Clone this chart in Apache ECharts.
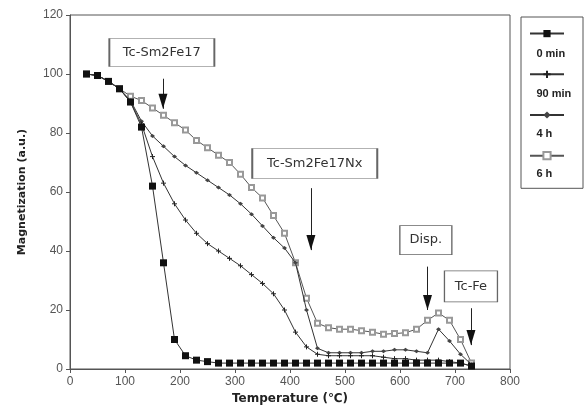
<!DOCTYPE html>
<html>
<head>
<meta charset="utf-8">
<script src="https://cdn.jsdelivr.net/npm/echarts@6/dist/echarts.min.js"></script>
<style>html,body{margin:0;padding:0;background:#fff;}#c{width:585px;height:415px;}</style>
</head>
<body>
<div id="c"></div>
<script>
// Temperature grid (°C)
var temps = [30,50,70,90,110,130,150,170,190,210,230,250,270,290,310,330,350,370,390,410,430,450,470,490,510,530,550,570,590,610,630,650,670,690,710,730];
// Magnetization (a.u.)
var min0 = [100,99.5,97.5,95,90.5,82,62,36,10,4.5,3,2.5,2,2,2,2,2,2,2,2,2,2,2,2,2,2,2,2,2,2,2,2,2,2,2,1];
var min90 = [100,99.5,97.5,95,90.5,83,72,63,56,50.5,46,42.5,40,37.5,35,32,29,25.5,20,12.5,7.5,5,4.5,4.5,4.5,4.5,4.5,4,3.5,3.5,3,3,3,2.5,2,1];
var h4 = [100,99.5,97.5,95,91,84,79,75.5,72,69,66.5,64,61.5,59,56,52.5,48.5,44.5,41,36,20,7,5.5,5.5,5.5,5.5,6,6,6.5,6.5,6,5.5,13.5,9.5,5,1.5];
var h6 = [100,99.5,97.5,95,92.5,91,88.5,86,83.5,81,77.5,75,72.5,70,66,61.5,58,52,46,36,24,15.5,14,13.5,13.5,13,12.5,11.8,12,12.3,13.5,16.5,19,16.5,10,2];
var seriesNames = ['0 min','90 min','4 h','6 h'];
var xTicks = [0,100,200,300,400,500,600,700,800];
var yTicks = [0,20,40,60,80,100,120];
// Annotations: label, box centre [T, M], arrow start [T, M], arrow tip [T, M]
var annLabels = ['Tc-Sm2Fe17','Tc-Sm2Fe17Nx','Disp.','Tc-Fe'];
var annBoxes = [[167,107.3],[445,69.7],[647,43.7],[729,28]];
var annArrowFrom = [[169,98.4],[438,61.3],[650,34.7],[729,20.6]];
var annArrowTo = [[169,88.2],[438,40.3],[650,20],[729,8.1]];

function pairs(vals){ return temps.map(function(t,i){ return [t, vals[i]]; }); }
var boxSizes = [[105,28],[125,30],[52,29],[53,31]];
var fontFam = 'DejaVu Sans';

var annMarkPoints = [];
annLabels.forEach(function(lab,i){
  annMarkPoints.push({
    coord: annBoxes[i], symbol: 'rect', symbolSize: boxSizes[i],
    itemStyle: {color:'#fff', borderColor:'#666', borderWidth:1},
    label: {show:true, position:'inside', formatter: lab, color:'#333', fontSize: 13, fontFamily: fontFam}
  });
  annMarkPoints.push({
    coord: annArrowTo[i], symbol: 'path://M0,0 L10,0 L5,16 Z', symbolSize: [9,15],
    symbolOffset: [0,'-50%'], itemStyle: {color:'#111'}, label:{show:false}
  });
});
var annLines = annLabels.map(function(lab,i){
  return [{coord: annArrowFrom[i]},{coord: annArrowTo[i]}];
});

var chart = echarts.init(document.getElementById('c'), null, {renderer:'canvas'});
var baseLine = {color:'#333', width:1};
chart.setOption({
  animation: false,
  backgroundColor: '#fff',
  grid: {left:70, right:75, top:15, bottom:46, show:true, borderColor:'#555', borderWidth:1},
  xAxis: {
    type:'value', min: xTicks[0], max: xTicks[xTicks.length-1], interval: 100,
    name: 'Temperature (℃)', nameLocation:'middle', nameGap: 19,
    nameTextStyle: {fontWeight:'bold', fontSize:12, color:'#222', fontFamily: fontFam},
    axisLine: {show:true, lineStyle:{color:'#555'}},
    axisTick: {show:true, inside:false, length:4, lineStyle:{color:'#555'}},
    axisLabel: {fontSize:12, color:'#555', margin:7, fontFamily:'Liberation Sans'},
    splitLine: {show:false}
  },
  yAxis: {
    type:'value', min: yTicks[0], max: yTicks[yTicks.length-1], interval: 20,
    name: 'Magnetization (a.u.)', nameLocation:'middle', nameGap: 42,
    nameTextStyle: {fontWeight:'bold', fontSize:11, color:'#222', fontFamily: fontFam},
    axisLine: {show:true, lineStyle:{color:'#555'}},
    axisTick: {show:true, inside:false, length:4, lineStyle:{color:'#555'}},
    axisLabel: {fontSize:12, color:'#555', margin:7, fontFamily:'Liberation Sans'},
    splitLine: {show:false}
  },
  legend: [{
    data: seriesNames, orient:'vertical', left: 521, top: 17,
    itemWidth: 34, itemHeight: 9, itemGap: 32.5,
    formatter: function(){ return ''; },
    textStyle: {fontSize: 9, lineHeight: 9},
    borderColor:'#555', borderWidth:1, padding:[13,14,28,8],
    selectedMode: false
  },{
    data: seriesNames, orient:'vertical', left: 525, top: 42,
    itemWidth: 0, itemHeight: 1, itemGap: 26,
    itemStyle: {opacity:0}, lineStyle:{opacity:0},
    textStyle: {fontSize: 11, fontWeight:'bold', color:'#222', fontFamily: 'Liberation Sans', lineHeight: 14},
    selectedMode: false
  }],
  series: [
    {name: seriesNames[0], type:'line', data: pairs(min0), symbol:'rect', symbolSize:7,
     itemStyle:{color:'#111'}, lineStyle: baseLine, z: 5},
    {name: seriesNames[1], type:'line', data: pairs(min90), symbol:'path://M0,5 L10,5 M5,0 L5,10', symbolSize:5,
     itemStyle:{color:'#222', borderColor:'#222', borderWidth:1}, lineStyle: baseLine, z: 4},
    {name: seriesNames[2], type:'line', data: pairs(h4), symbol:'diamond', symbolSize:[5,4],
     itemStyle:{color:'#444'}, lineStyle: baseLine, z: 3},
    {name: seriesNames[3], type:'line', data: pairs(h6), symbol:'emptyRect', symbolSize:5,
     itemStyle:{color:'#999', borderColor:'#999', borderWidth:1}, lineStyle: {color:'#555', width:1}, z: 2,
     markLine: {silent:true, symbol:['none','none'], lineStyle:{color:'#222', width:1, type:'solid'}, label:{show:false}, data: annLines},
     markPoint: {silent:true, data: annMarkPoints}
    }
  ]
});
</script>
</body>
</html>
